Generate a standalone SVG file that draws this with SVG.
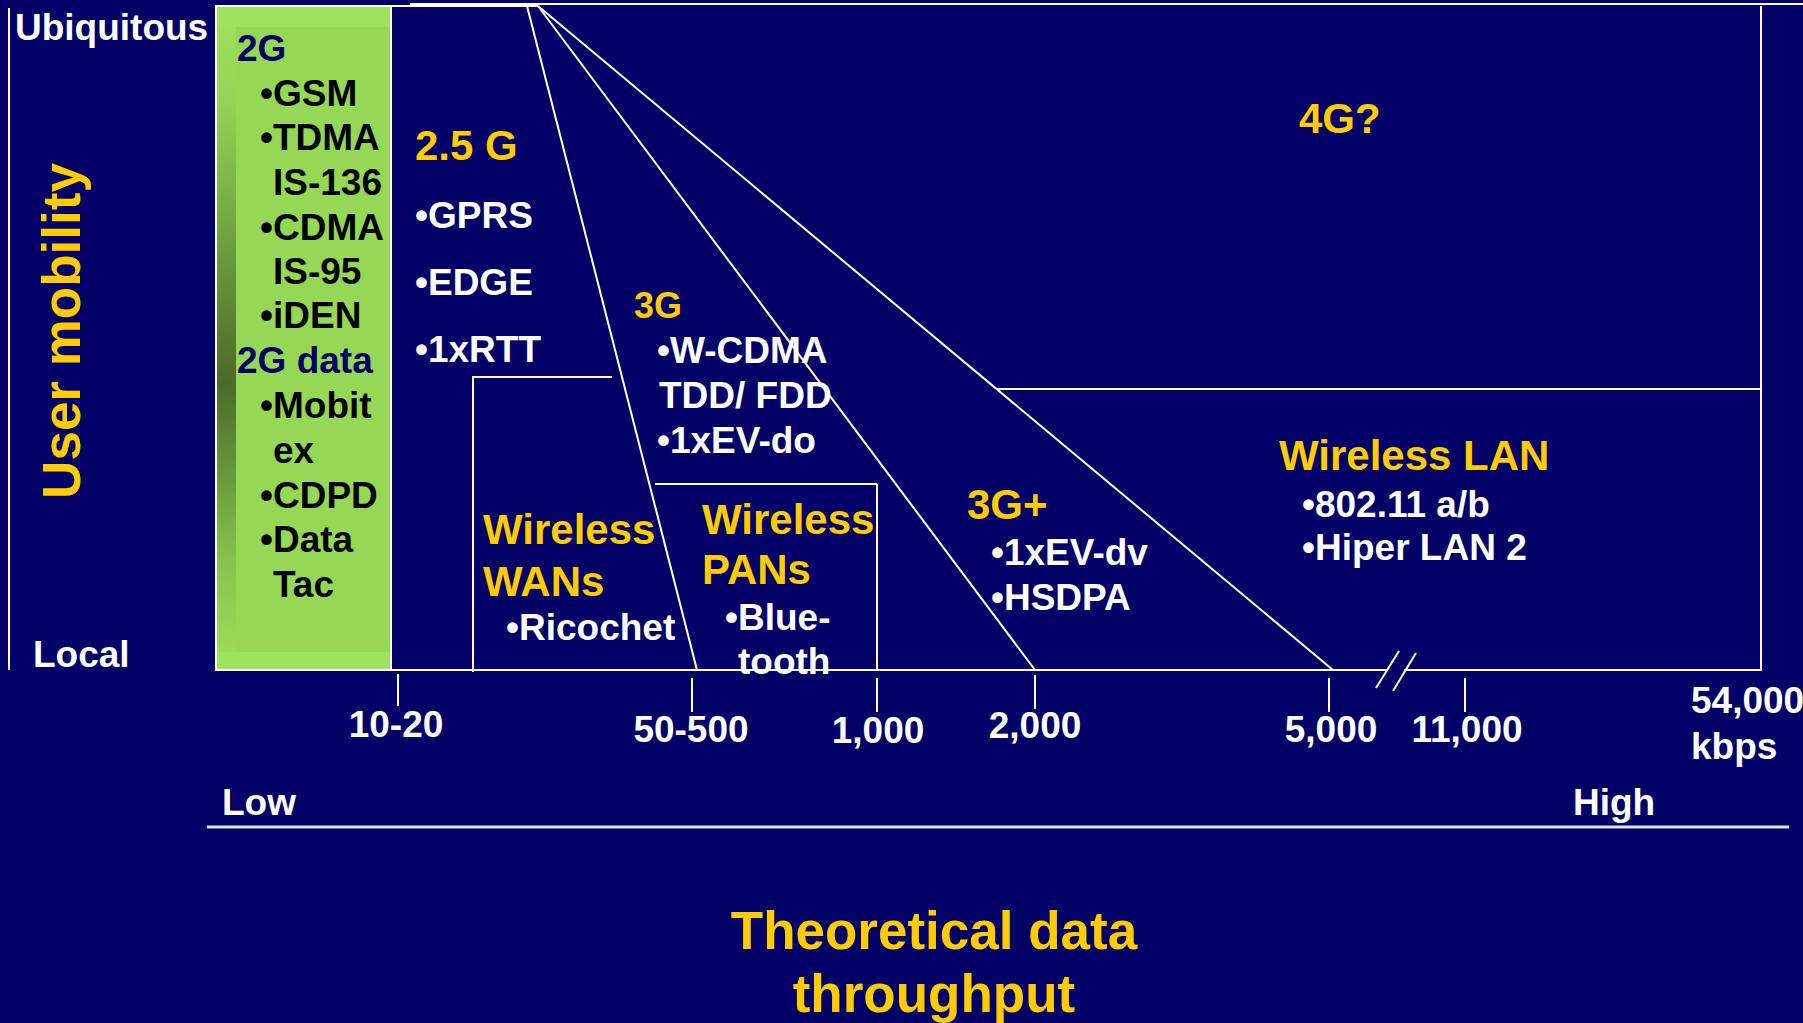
<svg xmlns="http://www.w3.org/2000/svg" width="1803" height="1023" viewBox="0 0 1803 1023">
<style>
text{font-family:"Liberation Sans",Arial,Helvetica,sans-serif;font-weight:bold;}
.w{fill:#ffffff;font-size:37px;}
.k{fill:#000000;font-size:37px;}
.n{fill:#000066;font-size:37px;}
.y{fill:#ffcc00;font-size:42px;}
.c{text-anchor:middle;}
.ln{stroke:#ffffff;stroke-width:2;fill:none;}
</style>
<defs>
<linearGradient id="strip" x1="0" y1="0" x2="0" y2="1">
<stop offset="0" stop-color="#9de05b"/>
<stop offset="0.12" stop-color="#93d455"/>
<stop offset="0.57" stop-color="#4a6a28"/>
<stop offset="0.85" stop-color="#86c24c"/>
<stop offset="1" stop-color="#98dc58"/>
</linearGradient>
</defs>
<rect x="0" y="0" width="1803" height="1023" fill="#000066"/>

<g id="node-2g">
<rect x="216" y="6" width="175" height="664" fill="#9ee35c" stroke="#ffffff" stroke-width="2"/>
<rect x="236" y="27" width="154" height="625" fill="#95d855"/>
<rect x="217" y="27" width="19" height="625" fill="url(#strip)"/>
<text class="n" x="237" y="61">2G</text>
<text class="k" x="260" y="106">•GSM</text>
<text class="k" x="260" y="150">•TDMA</text>
<text class="k" x="273" y="195">IS-136</text>
<text class="k" x="260" y="240">•CDMA</text>
<text class="k" x="273" y="284">IS-95</text>
<text class="k" x="260" y="328">•iDEN</text>
<text class="n" x="237" y="373">2G data</text>
<text class="k" x="260" y="418">•Mobit</text>
<text class="k" x="273" y="463">ex</text>
<text class="k" x="260" y="508">•CDPD</text>
<text class="k" x="260" y="552">•Data</text>
<text class="k" x="273" y="597">Tac</text>
</g>

<g id="connectors">
<line class="ln" x1="9" y1="8" x2="9" y2="670"/>
<line class="ln" x1="391" y1="6" x2="538" y2="6"/>
<line class="ln" x1="410" y1="4" x2="1803" y2="4"/>
<line class="ln" x1="1761" y1="6" x2="1761" y2="671"/>
<line class="ln" x1="391" y1="670" x2="1387" y2="670"/>
<line class="ln" x1="1404" y1="670" x2="1760" y2="670"/>
<line class="ln" x1="1399" y1="651" x2="1376" y2="688"/>
<line class="ln" x1="1416" y1="653" x2="1393" y2="691"/>
<line class="ln" x1="527" y1="6" x2="697" y2="670"/>
<line class="ln" x1="538" y1="6" x2="1035" y2="670"/>
<line class="ln" x1="538" y1="6" x2="1333" y2="670"/>
<line class="ln" x1="472" y1="377" x2="612" y2="377"/>
<line class="ln" x1="473" y1="377" x2="473" y2="672"/>
<line class="ln" x1="655" y1="484" x2="877" y2="484"/>
<line class="ln" x1="877" y1="484" x2="877" y2="670"/>
<line class="ln" x1="997" y1="389" x2="1761" y2="389"/>
<line class="ln" x1="398" y1="674" x2="398" y2="706"/>
<line class="ln" x1="692" y1="678" x2="692" y2="712"/>
<line class="ln" x1="877" y1="678" x2="877" y2="712"/>
<line class="ln" x1="1035" y1="675" x2="1035" y2="709"/>
<line class="ln" x1="1329" y1="678" x2="1329" y2="712"/>
<line class="ln" x1="1465" y1="678" x2="1465" y2="712"/>
<line x1="207" y1="827" x2="1789" y2="827" stroke="#e0e0e0" stroke-width="3"/>
</g>

<g id="axis-labels">
<text class="w" x="15" y="40">Ubiquitous</text>
<text class="w" x="33" y="667">Local</text>
<text class="y c" transform="translate(80,331) rotate(-90)" style="font-size:53px">User mobility</text>
<text class="w c" x="396" y="737">10-20</text>
<text class="w c" x="691" y="742">50-500</text>
<text class="w c" x="878" y="743">1,000</text>
<text class="w c" x="1035" y="738">2,000</text>
<text class="w c" x="1331" y="742">5,000</text>
<text class="w c" x="1467" y="742">11,000</text>
<text class="w" x="1691" y="713">54,000</text>
<text class="w" x="1691" y="759">kbps</text>
<text class="w" x="222" y="815">Low</text>
<text class="w" x="1573" y="815">High</text>
<text class="y c" x="934" y="949" style="font-size:53px">Theoretical data</text>
<text class="y c" x="934" y="1012" style="font-size:53px">throughput</text>
</g>

<g id="node-2-5g">
<text class="y" x="415" y="160">2.5 G</text>
<text class="w" x="415" y="228">•GPRS</text>
<text class="w" x="415" y="295">•EDGE</text>
<text class="w" x="415" y="362">•1xRTT</text>
</g>

<g id="node-3g">
<text class="y" x="634" y="318" style="font-size:36px">3G</text>
<text class="w" x="657" y="363">•W-CDMA</text>
<text class="w" x="659" y="408">TDD/ FDD</text>
<text class="w" x="657" y="453">•1xEV-do</text>
</g>

<g id="node-wwan">
<text class="y" x="483" y="544">Wireless</text>
<text class="y" x="483" y="596">WANs</text>
<text class="w" x="506" y="640">•Ricochet</text>
</g>

<g id="node-wpan">
<text class="y" x="702" y="534">Wireless</text>
<text class="y" x="702" y="584">PANs</text>
<text class="w" x="725" y="630">•Blue-</text>
<text class="w" x="738" y="674">tooth</text>
</g>

<g id="node-3gplus">
<text class="y" x="967" y="519">3G+</text>
<text class="w" x="991" y="565">•1xEV-dv</text>
<text class="w" x="991" y="610">•HSDPA</text>
</g>

<g id="node-wlan">
<text class="y" x="1279" y="470">Wireless LAN</text>
<text class="w" x="1302" y="517">•802.11 a/b</text>
<text class="w" x="1302" y="560">•Hiper LAN 2</text>
</g>

<g id="node-4g">
<text class="y" x="1299" y="133">4G?</text>
</g>
</svg>
